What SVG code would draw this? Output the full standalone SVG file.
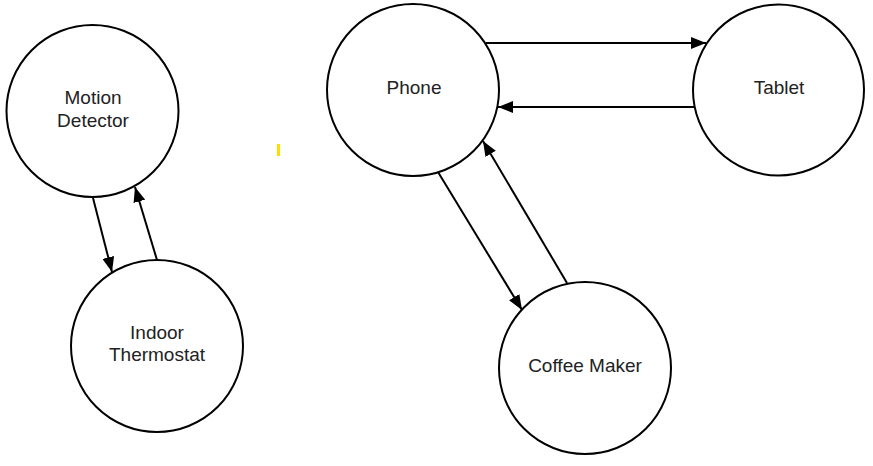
<svg xmlns="http://www.w3.org/2000/svg" width="873" height="466" viewBox="0 0 873 466">
  <style>
    .node circle { fill: #ffffff; stroke: #000000; stroke-width: 2; }
    .node text { font-family: "Liberation Sans", Arial, sans-serif; font-size: 19px; fill: #222222; text-anchor: middle; }
    .edge { stroke: #000000; stroke-width: 2; fill: none; marker-end: url(#arrow); }
  </style>
  <defs>
    <marker id="arrow" markerUnits="userSpaceOnUse" markerWidth="16" markerHeight="12" refX="15" refY="6" orient="auto">
      <path d="M0,0 L15,6 L0,12 z" fill="#000000"/>
    </marker>
  </defs>
  <rect x="0" y="0" width="873" height="466" fill="#ffffff"/>

  <g id="connectors">
    <line class="edge" x1="93" y1="198" x2="112" y2="272"/>
    <line class="edge" x1="157" y1="260" x2="135" y2="187"/>
    <line class="edge" x1="486" y1="43" x2="706" y2="43"/>
    <line class="edge" x1="694" y1="107" x2="498" y2="107"/>
    <line class="edge" x1="438" y1="172" x2="522" y2="310"/>
    <line class="edge" x1="567" y1="283" x2="483" y2="141"/>
  </g>

  <g id="motion-detector" class="node">
    <circle cx="92.5" cy="111" r="86"/>
    <text x="93" y="104">Motion</text>
    <text x="93" y="127">Detector</text>
  </g>
  <g id="indoor-thermostat" class="node">
    <circle cx="157" cy="346" r="86"/>
    <text x="157" y="339">Indoor</text>
    <text x="157" y="361">Thermostat</text>
  </g>
  <g id="phone" class="node">
    <circle cx="413" cy="90" r="86"/>
    <text x="414" y="94">Phone</text>
  </g>
  <g id="tablet" class="node">
    <circle cx="778.5" cy="90" r="85.5"/>
    <text x="779" y="94">Tablet</text>
  </g>
  <g id="coffee-maker" class="node">
    <circle cx="585" cy="368" r="86"/>
    <text x="585" y="372">Coffee Maker</text>
  </g>

  <rect x="277" y="144" width="3" height="12" fill="#ffdd00"/>
</svg>
